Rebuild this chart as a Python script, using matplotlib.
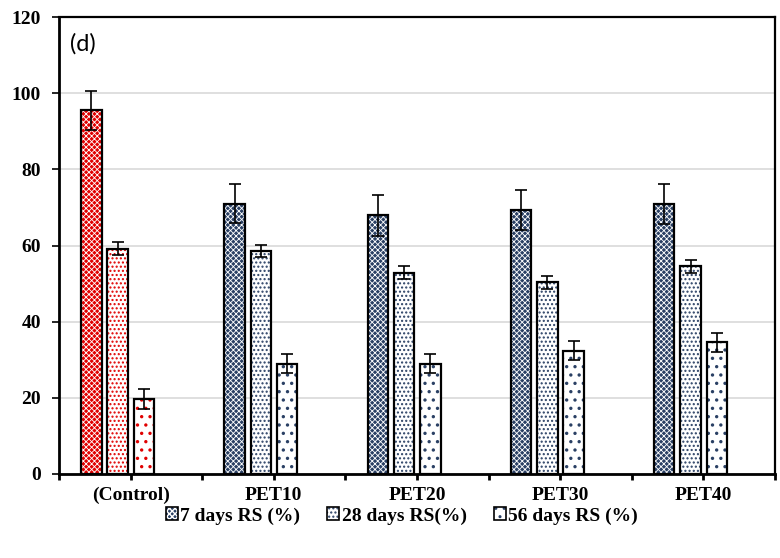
import matplotlib
matplotlib.use("Agg")
import matplotlib.pyplot as plt
import numpy as np
from matplotlib.patches import Patch

categories = ["(Control)", "PET10", "PET20", "PET30", "PET40"]
series_names = ["7 days RS (%)", "28 days RS(%)", "56 days RS (%)"]
rs7 = [95.5, 71.0, 67.9, 69.4, 70.9]
rs7_err = [5.2, 5.2, 5.3, 5.2, 5.2]
rs28 = [59.2, 58.5, 52.9, 50.4, 54.6]
rs28_err = [1.7, 1.6, 1.7, 1.7, 1.7]
rs56 = [19.6, 29.0, 28.9, 32.4, 34.6]
rs56_err = [2.6, 2.6, 2.5, 2.5, 2.5]
yticks = [0, 20, 40, 60, 80, 100, 120]

plt.rcParams['font.family'] = ['Liberation Serif', 'DejaVu Serif']
plt.rcParams['font.weight'] = 'bold'

fig = plt.figure(figsize=(7.8, 5.58), dpi=100)
ax = fig.add_axes([59/780, 1-474/558, (775-59)/780, (474-17)/558])

navy = '#2a4064'
red = '#e00000'
group_center = np.arange(len(categories)) * 2 + 0.82
offset = 0.367
width = 0.286

series = [(rs7, rs7_err), (rs28, rs28_err), (rs56, rs56_err)]
styles = [
    ('solid', 'xxxxxx', 0.6),
    ('white', '....', 1.0),
    ('white', '..', 1.2),
]

for si, (vals, errs) in enumerate(series):
    xs = group_center + (si - 1) * offset
    face, hatch, hlw = styles[si]
    for ci, (x, v, e) in enumerate(zip(xs, vals, errs)):
        col = red if ci == 0 else navy
        with plt.rc_context({'hatch.linewidth': hlw}):
            if face == 'solid':
                ax.bar(x, v, width, color=col, edgecolor='white', hatch=hatch,
                       linewidth=0, zorder=2)
            else:
                ax.bar(x, v, width, color='white', edgecolor=col, hatch=hatch,
                       linewidth=0, zorder=2)
        ax.bar(x, v, width, fill=False, edgecolor='black', linewidth=1.6, zorder=3)
        ax.errorbar(x, v, yerr=e, fmt='none', ecolor='black', elinewidth=1.2,
                    capsize=4, capthick=1.2, zorder=4)

ax.set_xlim(0, 10)
ax.set_ylim(0, 120)
ax.set_yticks(yticks)
ax.set_yticklabels([str(t) for t in yticks], fontsize=14, fontweight='bold')
ax.set_xticks(np.arange(0, 11))
labels = [''] * 11
for i, c in enumerate(categories):
    labels[2 * i + 1] = c
ax.set_xticklabels(labels, fontsize=14, fontweight='bold')
ax.tick_params(axis='x', length=4, width=2, pad=5, direction='out')
ax.tick_params(axis='y', length=5, width=1.2, pad=8, direction='out')
ax.grid(axis='y', color='#d9d9d9', linewidth=1.2, zorder=0)
ax.set_axisbelow(True)
for s in ax.spines.values():
    s.set_color('black')
    s.set_linewidth(1.6)
ax.spines['bottom'].set_linewidth(2.0)
ax.spines['left'].set_linewidth(2.0)

ax.text(0.15, 113, "(d)", fontsize=17, fontweight='normal', family=['Lato', 'DejaVu Sans'],
        va='center', ha='left')

with plt.rc_context({'hatch.linewidth': 0.6}):
    h1 = Patch(facecolor=navy, edgecolor='white', hatch='xxxxxx', linewidth=0)
with plt.rc_context({'hatch.linewidth': 1.0}):
    h2 = Patch(facecolor='white', edgecolor=navy, hatch='....', linewidth=0)
with plt.rc_context({'hatch.linewidth': 1.2}):
    h3 = Patch(facecolor='white', edgecolor=navy, hatch='..', linewidth=0)
handles = [(h, Patch(fill=False, edgecolor='black', linewidth=1.2)) for h in (h1, h2, h3)]
fig.legend(handles, series_names, loc='center', bbox_to_anchor=(402/780, 1-516/558), ncol=3,
           frameon=False, handlelength=0.62, handleheight=0.62,
           handletextpad=0.12, columnspacing=1.4, prop={'weight': 'bold', 'size': 14})

fig.savefig('out.png', dpi=100)
